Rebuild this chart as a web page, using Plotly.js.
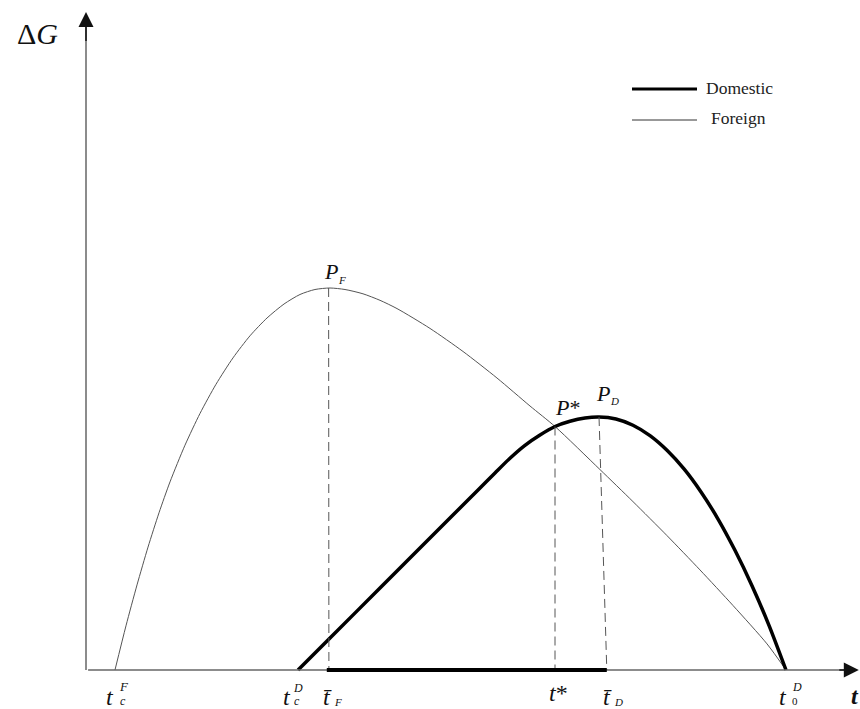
<!DOCTYPE html>
<html>
<head>
<meta charset="utf-8">
<script src="https://cdn.plot.ly/plotly-3.0.1.min.js"></script>
<style>html,body{margin:0;padding:0;background:#fff;}#chart{width:860px;height:709px;}</style>
</head>
<body>
<div id="chart"></div>
<script>
// Foreign curve (t, ΔG)
const foreignT = [4.14, 5.71, 7.29, 8.86, 10.43, 12.0, 14.14, 16.29, 18.57, 21.0, 23.43, 25.86, 28.29, 30.57, 32.71, 34.86, 37.0, 39.57, 42.0, 44.43, 49.14, 53.86, 58.71, 63.43, 67.0, 73.43, 78.14, 83.0, 87.71, 92.43, 97.29, 100];
const foreignG = [0, 11.59, 22.34, 32.26, 41.26, 49.37, 59.00, 67.35, 74.99, 81.92, 87.72, 92.39, 96.06, 98.56, 99.87, 100.26, 99.87, 98.74, 97.03, 94.86, 89.66, 83.60, 76.64, 69.29, 63.91, 52.60, 44.20, 35.27, 26.27, 16.93, 6.85, 0];
// Domestic curve (t, ΔG)
const domesticT = [30.29, 34.86, 42.0, 49.14, 56.29, 58.43, 60.57, 62.71, 64.86, 67.0, 69.14, 71.29, 73.29, 75.71, 78.14, 80.57, 83.0, 85.43, 87.86, 90.29, 92.71, 95.14, 97.57, 100];
const domesticG = [0, 8.40, 21.52, 34.65, 47.77, 51.71, 55.59, 58.98, 61.68, 63.91, 65.28, 66.14, 66.40, 65.88, 64.23, 61.50, 57.66, 52.76, 46.72, 39.63, 31.42, 22.13, 11.73, 0];
// Key points
const tbarF = 34.7, tStar = 67.0, tbarD = 74.4;
const PF = [34.86, 100.26], PStar = [67.0, 63.91], PD = [73.29, 66.4];
// Axis extents
const xMax = 110.4, yMax = 172.7;

const serif = 'Liberation Serif, Times New Roman, serif';

const traces = [
  {x: foreignT, y: foreignG, mode: 'lines', name: 'Foreign',
   line: {color: '#555', width: 1, shape: 'spline', smoothing: 0.7}, hoverinfo: 'skip'},
  {x: domesticT, y: domesticG, mode: 'lines', name: 'Domestic',
   line: {color: '#000', width: 3.5, shape: 'spline', smoothing: 0.7}, hoverinfo: 'skip'}
];

const dashStyle = {color: '#555', width: 1, dash: '9px,5px'};
const shapes = [
  // x axis and y axis lines
  {type: 'line', xref: 'x', yref: 'y', x0: 0.3, y0: 0, x1: xMax - 1, y1: 0, line: {color: '#666', width: 1.5}},
  {type: 'line', xref: 'x', yref: 'y', x0: 0, y0: 0, x1: 0, y1: yMax - 3, line: {color: '#666', width: 1.5}},
  // dashed drop lines
  {type: 'line', xref: 'x', yref: 'y', x0: PF[0] - 0.2, y0: PF[1], x1: tbarF, y1: 0, line: dashStyle},
  {type: 'line', xref: 'x', yref: 'y', x0: PStar[0], y0: PStar[1], x1: tStar, y1: 0, line: dashStyle},
  {type: 'line', xref: 'x', yref: 'y', x0: PD[0], y0: PD[1], x1: tbarD, y1: 0, line: dashStyle},
  // thick segment on axis
  {type: 'line', xref: 'x', yref: 'y', x0: tbarF - 0.3, y0: 0, x1: tbarD, y1: 0, line: {color: '#000', width: 4}},
  // legend lines
  {type: 'line', xref: 'paper', yref: 'paper', x0: 632/860, y0: 1 - 89/709, x1: 697/860, y1: 1 - 89/709, line: {color: '#000', width: 3}},
  {type: 'line', xref: 'paper', yref: 'paper', x0: 632/860, y0: 1 - 120/709, x1: 697/860, y1: 1 - 120/709, line: {color: '#333', width: 1}}
];

function txt(x, y, text, size, opts) {
  return Object.assign({x: x, y: y, xref: 'x', yref: 'y', text: text, showarrow: false,
    font: {family: serif, size: size, color: '#111'}, xanchor: 'center', yanchor: 'middle'}, opts || {});
}
// pixel helper to data units: px -> t, py -> G
const T = px => (px - 86) / 7;
const G = py => (670 - py) / 3.81;

const annotations = [
  // axis arrows
  {x: 0, y: yMax, ax: 0, ay: yMax - 8, xref: 'x', yref: 'y', axref: 'x', ayref: 'y', text: '', showarrow: true,
   arrowhead: 2, arrowsize: 2, arrowwidth: 1.5, arrowcolor: '#111'},
  {x: xMax, y: 0, ax: xMax - 3, ay: 0, xref: 'x', yref: 'y', axref: 'x', ayref: 'y', text: '', showarrow: true,
   arrowhead: 2, arrowsize: 2, arrowwidth: 1.5, arrowcolor: '#111'},
  // axis titles
  txt(T(37), G(33), 'Δ<i>G</i>', 30),
  txt(T(855), G(696), '<b><i>t</i></b>', 24),
  // peak labels
  txt(T(331), G(271), '<i>P</i>', 22),
  txt(T(342), G(280), '<i>F</i>', 11),
  txt(T(567), G(407), '<i>P</i>*', 22),
  txt(T(603), G(393), '<i>P</i>', 22),
  txt(T(614), G(401), '<i>D</i>', 11),
  // tick labels
  txt(T(110), G(697), '<i>t</i>', 24),
  txt(T(124), G(686), '<i>F</i>', 13),
  txt(T(123), G(701), '<i>c</i>', 12),
  txt(T(287), G(697), '<i>t</i>', 24),
  txt(T(298), G(688), '<i>D</i>', 12),
  txt(T(297), G(701), '<i>c</i>', 12),
  txt(T(327), G(697), '<i>t\u0304</i>', 24),
  txt(T(338), G(702), '<i>F</i>', 11),
  txt(T(558), G(693), '<i>t</i>*', 24),
  txt(T(607), G(697), '<i>t\u0304</i>', 24),
  txt(T(618), G(702), '<i>D</i>', 11),
  txt(T(783), G(697), '<i>t</i>', 24),
  txt(T(797), G(687), '<i>D</i>', 12),
  txt(T(795), G(701), '0', 11),
  // legend text
  {x: 704/860, y: 1 - 88/709, xref: 'paper', yref: 'paper', text: 'Domestic', showarrow: false,
   xanchor: 'left', yanchor: 'middle', font: {family: serif, size: 17.5, color: '#222'}},
  {x: 709/860, y: 1 - 118/709, xref: 'paper', yref: 'paper', text: 'Foreign', showarrow: false,
   xanchor: 'left', yanchor: 'middle', font: {family: serif, size: 17.5, color: '#222'}}
];

const layout = {
  width: 860, height: 709,
  margin: {l: 0, r: 0, t: 0, b: 0},
  paper_bgcolor: '#fff', plot_bgcolor: '#fff',
  showlegend: false,
  xaxis: {range: [-86/7, 774/7], visible: false, fixedrange: true},
  yaxis: {range: [-39/3.81, 670/3.81], visible: false, fixedrange: true},
  shapes: shapes,
  annotations: annotations
};

Plotly.newPlot('chart', traces, layout, {displayModeBar: false, staticPlot: true});
</script>
</body>
</html>
